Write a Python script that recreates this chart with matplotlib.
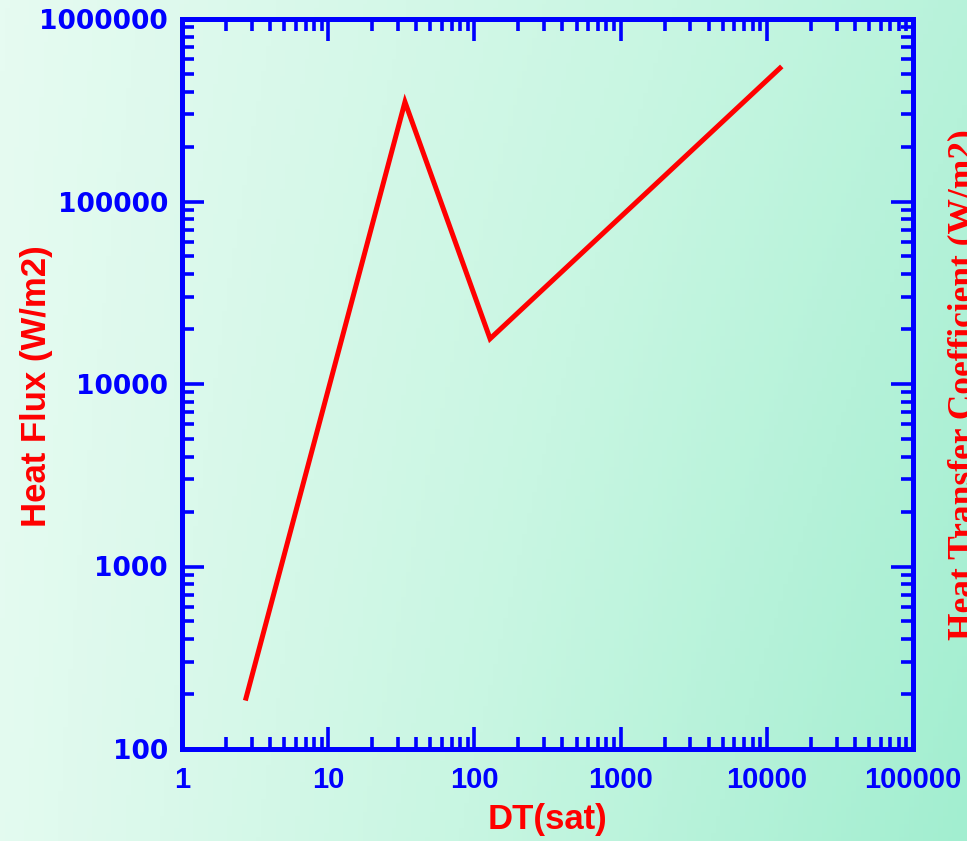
import numpy as np
import matplotlib
matplotlib.use('Agg')
import matplotlib.pyplot as plt
from matplotlib.ticker import LogLocator, FixedLocator, NullFormatter
from matplotlib.colors import LinearSegmentedColormap

# boiling curve
dt_sat = [2.74, 33.5, 128, 12300]
heat_flux = [190, 351000, 17700, 538000]

x_ticks = [1, 10, 100, 1000, 10000, 100000]
x_labels = ['1', '10', '100', '1000', '10000', '100000']
y_ticks = [100, 1000, 10000, 100000, 1000000]
y_labels = ['100', '1000', '10000', '100000', '1000000']

blue = '#0000ff'
red = '#ff0000'
sans = ['Liberation Sans', 'DejaVu Sans']

W, H = 967, 841
fig = plt.figure(figsize=(W / 100, H / 100), dpi=100)

# background gradient, light top-left to greener bottom-right
bg = fig.add_axes([0, 0, 1, 1], zorder=-10)
gx, gy = np.meshgrid(np.linspace(0, 1, 200), np.linspace(0, 1, 200))
grad = 0.75 * gx + 0.25 * gy * gx + 0.05 * gy
cmap = LinearSegmentedColormap.from_list('bg', ['#e6fbf1', '#c8f6e2', '#a2eed0'])
bg.imshow(grad, cmap=cmap, aspect='auto', extent=[0, 1, 0, 1], origin='upper')
bg.axis('off')

ax = fig.add_axes([182 / W, 1 - 749 / H, (913 - 182) / W, (749 - 19) / H])
ax.patch.set_alpha(0)
ax.set_xscale('log')
ax.set_yscale('log')
ax.set_xlim(1, 100000)
ax.set_ylim(100, 1000000)

ax.plot(dt_sat, heat_flux, color=red, lw=3.6, solid_joinstyle='miter')

for s in ax.spines.values():
    s.set_color(blue)
    s.set_linewidth(3.6)

ax.xaxis.set_major_locator(FixedLocator(x_ticks))
ax.yaxis.set_major_locator(FixedLocator(y_ticks))
ax.xaxis.set_minor_locator(LogLocator(base=10, subs=np.arange(2, 10), numticks=20))
ax.yaxis.set_minor_locator(LogLocator(base=10, subs=np.arange(2, 10), numticks=20))
ax.xaxis.set_minor_formatter(NullFormatter())
ax.yaxis.set_minor_formatter(NullFormatter())
ax.set_xticklabels(x_labels)
ax.set_yticklabels(y_labels)

ax.tick_params(which='both', direction='in', top=True, right=True, color=blue, width=2.6)
ax.tick_params(which='major', length=16)
ax.tick_params(which='minor', length=8.5)
ax.tick_params(axis='x', pad=12, labelcolor=blue)
ax.tick_params(axis='y', pad=10, labelcolor=blue)

for lab in ax.get_xticklabels():
    lab.set_family(sans)
    lab.set_fontweight('bold')
    lab.set_fontsize(21)
for lab in ax.get_yticklabels():
    lab.set_family('DejaVu Sans')
    lab.set_fontweight('bold')
    lab.set_fontsize(19)

fig.text(547 / W, 1 - 820 / H, 'DT(sat)', color=red, family=sans, fontweight='bold',
         fontsize=25, ha='center', va='center')
fig.text(37 / W, 1 - 386 / H, 'Heat Flux (W/m2)', color=red, family=sans,
         fontweight='bold', fontsize=25, rotation=90, ha='center', va='center')
fig.text(947 / W, 1 - 385 / H, 'Heat Transfer Coefficient (W/m2)', color=red,
         family=['Liberation Serif', 'DejaVu Serif'], fontweight='bold', fontsize=25.5,
         rotation=90, ha='left', va='center')

fig.savefig('out.png', dpi=100)
